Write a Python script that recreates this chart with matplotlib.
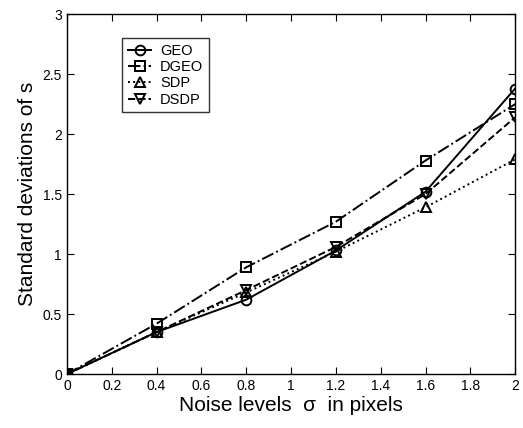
import numpy as np
import matplotlib
matplotlib.use('Agg')
import matplotlib.pyplot as plt

plt.rcParams['font.family'] = ['Liberation Sans', 'DejaVu Sans']

# noise levels and std deviations
noise = [0, 0.4, 0.8, 1.2, 1.6, 2.0]
geo = [0.0, 0.35, 0.62, 1.03, 1.52, 2.38]
dgeo = [0.0, 0.42, 0.89, 1.27, 1.78, 2.25]
sdp = [0.0, 0.35, 0.68, 1.02, 1.39, 1.79]
dsdp = [0.0, 0.35, 0.70, 1.06, 1.50, 2.14]

fig = plt.figure(figsize=(5.23, 4.28), dpi=100)
ax = fig.add_axes([0.128, 0.126, 0.857, 0.841])

mk = dict(color='k', markerfacecolor='none', markersize=7, markeredgewidth=1.4, linewidth=1.4)
ax.plot(noise, geo, '-', marker='o', label='GEO', **mk)
ax.plot(noise, dgeo, '-.', marker='s', label='DGEO', **mk)
ax.plot(noise, sdp, ':', marker='^', label='SDP', **mk)
ax.plot(noise, dsdp, '--', marker='v', label='DSDP', **mk)

ax.set_xlim(0, 2)
ax.set_ylim(0, 3)
ax.set_xticks(np.arange(0, 2.01, 0.2))
ax.set_xticklabels(['0', '0.2', '0.4', '0.6', '0.8', '1', '1.2', '1.4', '1.6', '1.8', '2'])
ax.set_yticks(np.arange(0, 3.01, 0.5))
ax.set_yticklabels(['0', '0.5', '1', '1.5', '2', '2.5', '3'])
ax.tick_params(direction='in', top=True, right=True, labelsize=10, length=5)
for s in ax.spines.values():
    s.set_linewidth(1.0)

ax.set_xlabel('Noise levels  \u03c3  in pixels', fontsize=15, labelpad=2)
ax.set_ylabel('Standard deviations of s', fontsize=15, labelpad=4)

leg = ax.legend(loc='upper left', bbox_to_anchor=(0.123, 0.933), borderaxespad=0,
                fontsize=10.5, frameon=True, fancybox=False, edgecolor='k',
                handlelength=1.6, handletextpad=0.6, borderpad=0.4, labelspacing=0.15)
leg.get_frame().set_linewidth(1.0)

fig.savefig('out.png', dpi=100)
